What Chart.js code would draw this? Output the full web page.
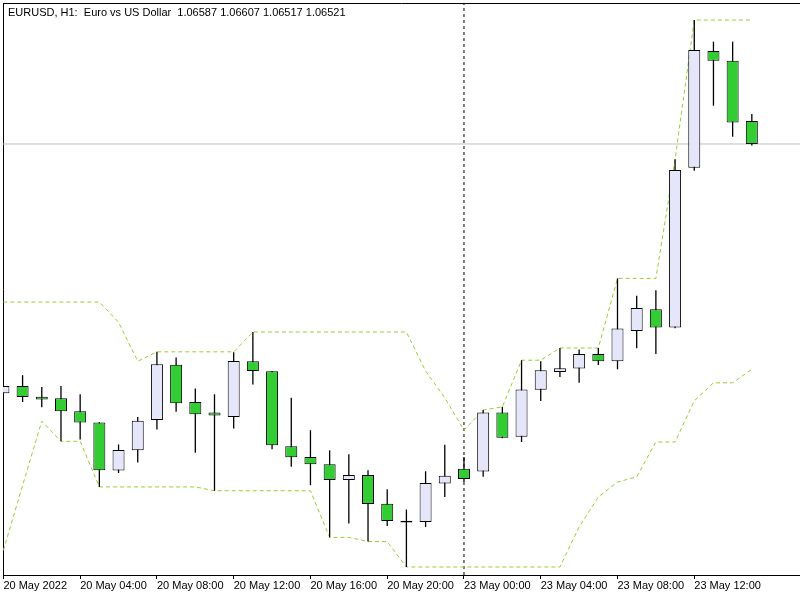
<!DOCTYPE html>
<html>
<head>
<meta charset="utf-8">
<script src="https://cdn.jsdelivr.net/npm/chart.js@4/dist/chart.umd.min.js"></script>
<style>
  html, body { margin: 0; padding: 0; background: #ffffff; }
  #wrap { position: relative; width: 800px; height: 600px; }
</style>
</head>
<body>
<div id="wrap"><canvas id="c"></canvas></div>
<script>
// ---- data (EURUSD H1, 20 May 00:00 .. 23 May 15:00) ----
const symbol = "EURUSD";
const period = "H1";
const description = "Euro vs US Dollar";

const opens  = [1.05805, 1.05826, 1.05795, 1.05791, 1.05753, 1.05721, 1.05583, 1.05641, 1.05728, 1.05887,
                1.05780, 1.05750, 1.05737, 1.05897, 1.05868, 1.05653, 1.05622, 1.05601, 1.05556, 1.05570,
                1.05488, 1.05439, 1.05435, 1.05546, 1.05588, 1.05580, 1.05750, 1.05680, 1.05815, 1.05866,
                1.05876, 1.05918, 1.05897, 1.05984, 1.06046, 1.05994, 1.06453, 1.06788, 1.06760, 1.06587];
const highs  = [1.05828, 1.05857, 1.05823, 1.05826, 1.05802, 1.05722, 1.05658, 1.05737, 1.05924, 1.05908,
                1.05819, 1.05802, 1.05923, 1.05981, 1.05869, 1.05792, 1.05699, 1.05641, 1.05630, 1.05584,
                1.05529, 1.05471, 1.05581, 1.05657, 1.05622, 1.05757, 1.05766, 1.05900, 1.05897, 1.05935,
                1.05931, 1.05935, 1.06135, 1.06085, 1.06101, 1.06477, 1.06877, 1.06815, 1.06815, 1.06607];
const lows   = [1.05803, 1.05780, 1.05765, 1.05667, 1.05672, 1.05536, 1.05576, 1.05606, 1.05701, 1.05752,
                1.05634, 1.05525, 1.05704, 1.05830, 1.05644, 1.05594, 1.05541, 1.05391, 1.05431, 1.05379,
                1.05424, 1.05306, 1.05421, 1.05507, 1.05550, 1.05565, 1.05676, 1.05665, 1.05783, 1.05852,
                1.05835, 1.05886, 1.05874, 1.05934, 1.05918, 1.05992, 1.06444, 1.06631, 1.06542, 1.06517];
const closes = [1.05826, 1.05794, 1.05787, 1.05753, 1.05721, 1.05584, 1.05642, 1.05726, 1.05888, 1.05776,
                1.05745, 1.05741, 1.05898, 1.05869, 1.05656, 1.05621, 1.05601, 1.05556, 1.05570, 1.05487,
                1.05438, 1.05434, 1.05547, 1.05568, 1.05559, 1.05750, 1.05677, 1.05816, 1.05871, 1.05877,
                1.05918, 1.05897, 1.05991, 1.06050, 1.05994, 1.06446, 1.06791, 1.06760, 1.06583, 1.06521];

// Donchian channel (upper / lower band), one value per candle
const upperBand = [1.06067, 1.06067, 1.06067, 1.06067, 1.06067, 1.06067, 1.06009, 1.05897, 1.05924, 1.05924,
                   1.05924, 1.05924, 1.05924, 1.05981, 1.05981, 1.05981, 1.05981, 1.05981, 1.05981, 1.05981,
                   1.05981, 1.05981, 1.05869, 1.05792, 1.05699, 1.05757, 1.05766, 1.05900, 1.05900, 1.05935,
                   1.05935, 1.05935, 1.06135, 1.06135, 1.06135, 1.06477, 1.06877, 1.06877, 1.06877, 1.06877];
const lowerBand = [1.05354, 1.05540, 1.05725, 1.05667, 1.05667, 1.05536, 1.05536, 1.05536, 1.05536, 1.05536,
                   1.05536, 1.05525, 1.05525, 1.05525, 1.05525, 1.05525, 1.05525, 1.05391, 1.05391, 1.05379,
                   1.05379, 1.05306, 1.05306, 1.05306, 1.05306, 1.05306, 1.05306, 1.05306, 1.05306, 1.05306,
                   1.05421, 1.05507, 1.05550, 1.05565, 1.05665, 1.05665, 1.05783, 1.05835, 1.05835, 1.05874];

// time axis
const tickIndices = [0, 4, 8, 12, 16, 20, 24, 28, 32, 36];
const tickLabels  = ["20 May 2022", "20 May 04:00", "20 May 08:00", "20 May 12:00", "20 May 16:00",
                     "20 May 20:00", "23 May 00:00", "23 May 04:00", "23 May 08:00", "23 May 12:00"];
const separatorIndex = 24;          // dashed vertical line (23 May 00:00)

// visible ranges
const xMin = -0.021, xMax = 41.51;
const yMin = 1.05283, yMax = 1.06926;

// ---- styling ----
const BULL = '#e6e6fa', BEAR = '#32cd32', EDGE = '#000000';
const CHANNEL = '#9acd32', PRICE_LINE = '#c0c0c0';
const FONT = '"Liberation Sans", Arial, sans-serif';

const last = closes.length - 1;
const titleText = `${symbol}, ${period}:  ${description}  ${opens[last].toFixed(5)} ${highs[last].toFixed(5)} ${lows[last].toFixed(5)} ${closes[last].toFixed(5)}`;

const bodies = opens.map((o, i) => ({ x: i, y: [o, closes[i]] }));
const wicks  = lows.map((l, i) => ({ x: i, y: [l, highs[i]] }));
const bodyColors = opens.map((o, i) => closes[i] >= o ? BULL : BEAR);

const overlay = {
  id: 'overlay',
  afterDraw(chart) {
    const { ctx, chartArea } = chart;
    ctx.save();
    ctx.strokeStyle = '#000';
    ctx.lineWidth = 1;
    ctx.beginPath();
    ctx.moveTo(chartArea.left, chartArea.top + 0.5);
    ctx.lineTo(chartArea.right, chartArea.top + 0.5);
    ctx.stroke();
    ctx.fillStyle = '#000';
    ctx.font = '11px ' + FONT;
    ctx.textBaseline = 'alphabetic';
    ctx.textAlign = 'left';
    ctx.fillText(titleText, chartArea.left + 5, chartArea.top + 13);
    ctx.restore();
  }
};

new Chart(document.getElementById('c'), {
  type: 'bar',
  data: {
    datasets: [
      { type: 'bar', label: 'body', data: bodies, backgroundColor: bodyColors, borderColor: EDGE,
        borderWidth: 1, borderSkipped: false, barThickness: 12, grouped: false, inflateAmount: 0, order: 0 },
      { type: 'bar', label: 'wick', data: wicks, backgroundColor: EDGE, borderWidth: 0,
        barThickness: 1.3, grouped: false, inflateAmount: 0, order: 1 },
      { type: 'line', label: 'upper', data: upperBand.map((v, i) => ({ x: i, y: v })), borderColor: CHANNEL,
        borderWidth: 1, borderDash: [4, 3], pointRadius: 0, tension: 0, fill: false, order: 2 },
      { type: 'line', label: 'lower', data: lowerBand.map((v, i) => ({ x: i, y: v })), borderColor: CHANNEL,
        borderWidth: 1, borderDash: [4, 3], pointRadius: 0, tension: 0, fill: false, order: 2 },
      { type: 'line', label: 'separator', data: [{ x: separatorIndex, y: yMin }, { x: separatorIndex, y: yMax }],
        borderColor: '#000', borderWidth: 1, borderDash: [3, 3], pointRadius: 0, fill: false, order: 3 },
      { type: 'line', label: 'price', data: [{ x: xMin, y: closes[last] }, { x: xMax, y: closes[last] }],
        borderColor: PRICE_LINE, borderWidth: 1, pointRadius: 0, fill: false, order: 4 }
    ]
  },
  options: {
    responsive: true,
    maintainAspectRatio: false,
    animation: false,
    events: [],
    layout: { padding: { left: 3, top: 3, right: 0, bottom: 0 } },
    plugins: { legend: { display: false }, tooltip: { enabled: false }, title: { display: false } },
    scales: {
      x: {
        type: 'linear', position: 'bottom', min: xMin, max: xMax, offset: false,
        afterBuildTicks: (scale) => { scale.ticks = tickIndices.map(v => ({ value: v })); },
        afterFit: (scale) => { scale.height = 25; },
        ticks: {
          autoSkip: false, maxRotation: 0, minRotation: 0, align: 'start', padding: 0, color: '#000',
          font: { family: FONT, size: 11 },
          callback: (value) => tickLabels[tickIndices.indexOf(value)]
        },
        grid: { display: true, drawOnChartArea: false, drawTicks: true, tickLength: 4, color: '#000', offset: false },
        border: { display: true, color: '#000', width: 1 }
      },
      y: {
        type: 'linear', position: 'left', min: yMin, max: yMax,
        afterFit: (scale) => { scale.width = 0; },
        ticks: { display: false },
        grid: { display: false, drawTicks: false },
        border: { display: true, color: '#000', width: 1 }
      }
    }
  },
  plugins: [overlay]
});
</script>
</body>
</html>
